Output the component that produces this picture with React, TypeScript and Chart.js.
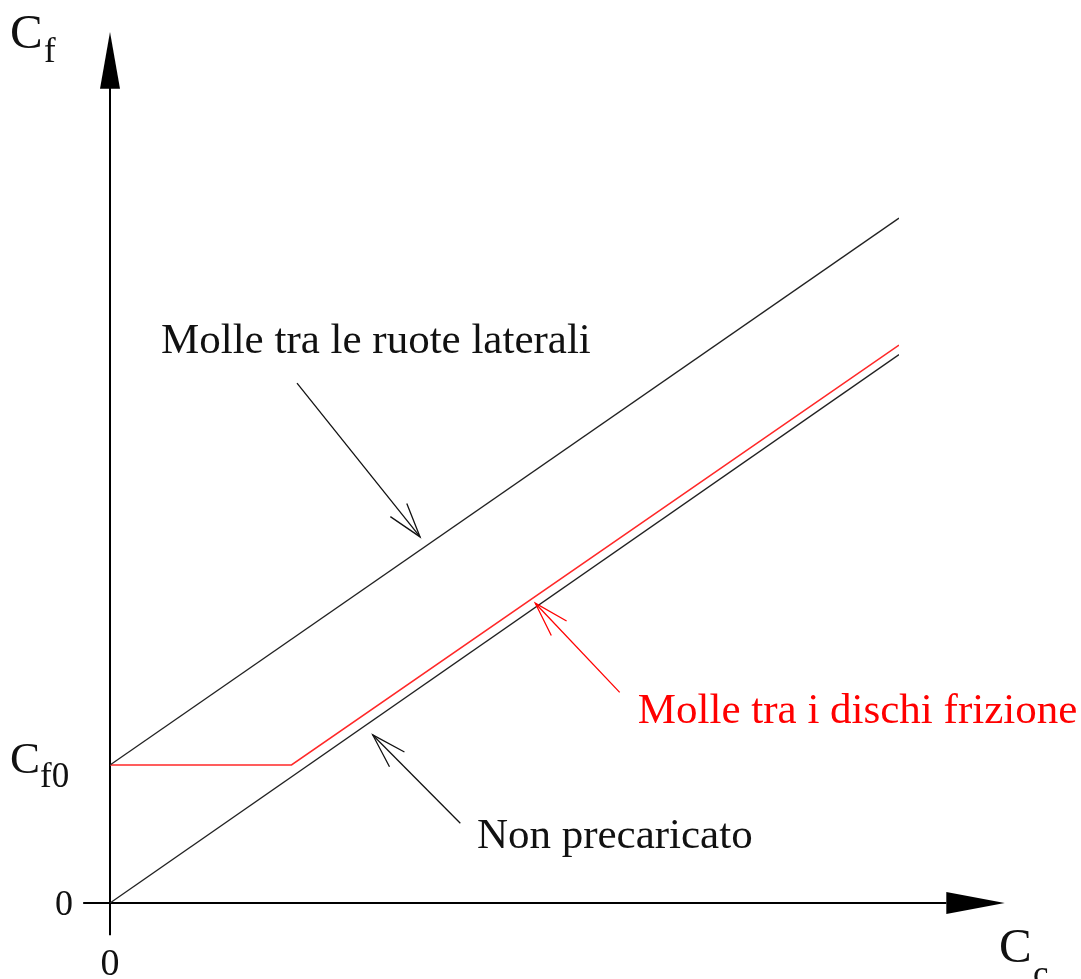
import React, { useEffect, useRef } from "react";
import Chart from "chart.js/auto";

// Data (abstract units: Cc on x, Cf on y)
const xEnds = [0, 10];
const nonPrecaricato = [0, 6.95];
const molleRuote = [1.75, 8.68];
const dischiX = [0, 2.3, 10];
const dischiY = [1.75, 1.75, 7.07];
const cf0 = 1.75;

const labelNonPrecaricato = "Non precaricato";
const labelRuote = "Molle tra le ruote laterali";
const labelDischi = "Molle tra i dischi frizione";

// annotation anchors in data units: [textX, textY, arrowFromX, arrowFromY, arrowToX, arrowToY]
const annRuote = [0.646, 6.97, 2.37, 6.59, 3.93, 4.64];
const annDischi = [6.69, 2.28, 6.46, 2.67, 5.39, 3.8];
const annNon = [4.65, 0.7, 4.44, 1.01, 3.33, 2.13];

const SERIF = '"Liberation Serif", "Times New Roman", serif';
const RED = "rgb(255,40,40)";

export default function App() {
  const ref = useRef<HTMLCanvasElement | null>(null);

  useEffect(() => {
    const canvas = ref.current;
    if (!canvas) return;

    const overlay = {
      id: "overlay",
      beforeDatasetsDraw(chart: any) {
        const ctx = chart.ctx as CanvasRenderingContext2D;
        const xs = chart.scales.x;
        const ys = chart.scales.y;
        const X = (v: number) => xs.getPixelForValue(v);
        const Y = (v: number) => ys.getPixelForValue(v);
        const x0 = X(0);
        const y0 = Y(0);
        ctx.save();
        ctx.strokeStyle = "#000";
        ctx.fillStyle = "#000";
        ctx.lineWidth = 2;
        // y axis
        ctx.beginPath();
        ctx.moveTo(x0, Y(-0.41));
        ctx.lineTo(x0, Y(10.35));
        ctx.stroke();
        ctx.beginPath();
        ctx.moveTo(x0, Y(11.04));
        ctx.lineTo(x0 - 10, Y(10.32));
        ctx.lineTo(x0 + 10, Y(10.32));
        ctx.closePath();
        ctx.fill();
        // x axis
        ctx.beginPath();
        ctx.moveTo(X(-0.34), y0);
        ctx.lineTo(X(10.6), y0);
        ctx.stroke();
        ctx.beginPath();
        ctx.moveTo(X(11.34), y0);
        ctx.lineTo(X(10.6), y0 - 11);
        ctx.lineTo(X(10.6), y0 + 11);
        ctx.closePath();
        ctx.fill();
        ctx.restore();
      },
      afterDatasetsDraw(chart: any) {
        const ctx = chart.ctx as CanvasRenderingContext2D;
        const xs = chart.scales.x;
        const ys = chart.scales.y;
        const X = (v: number) => xs.getPixelForValue(v);
        const Y = (v: number) => ys.getPixelForValue(v);
        ctx.save();
        ctx.fillStyle = "#111";
        ctx.textBaseline = "alphabetic";

        // Cf label
        ctx.textAlign = "left";
        ctx.font = `49px ${SERIF}`;
        ctx.fillText("C", 10, 48);
        ctx.font = `35px ${SERIF}`;
        ctx.fillText("f", 44, 62);

        // Cf0 label
        ctx.font = `45px ${SERIF}`;
        ctx.fillText("C", 10, Y(cf0) + 8);
        ctx.font = `35px ${SERIF}`;
        ctx.fillText("f0", 40, Y(cf0) + 22);

        // 0 on y
        ctx.textAlign = "right";
        ctx.font = `36px ${SERIF}`;
        ctx.fillText("0", X(0) - 37, Y(0) + 12);
        // 0 on x
        ctx.textAlign = "center";
        ctx.font = `38px ${SERIF}`;
        ctx.fillText("0", X(0), Y(0) + 72);

        // Cc label
        ctx.textAlign = "left";
        ctx.font = `49px ${SERIF}`;
        ctx.fillText("C", 999, Y(0) + 59);
        ctx.font = `35px ${SERIF}`;
        ctx.fillText("c", 1033, Y(0) + 82);

        const drawAnn = (a: number[], text: string, color: string) => {
          ctx.fillStyle = color;
          ctx.strokeStyle = color;
          ctx.textAlign = "left";
          ctx.font = `43px ${SERIF}`;
          ctx.fillText(text, X(a[0]), Y(a[1]));
          const fx = X(a[2]);
          const fy = Y(a[3]);
          const tx = X(a[4]);
          const ty = Y(a[5]);
          ctx.lineWidth = 1.3;
          ctx.beginPath();
          ctx.moveTo(fx, fy);
          ctx.lineTo(tx, ty);
          ctx.stroke();
          const ang = Math.atan2(fy - ty, fx - tx);
          const len = 36;
          const spread = (17 * Math.PI) / 180;
          ctx.beginPath();
          ctx.moveTo(tx + len * Math.cos(ang + spread), ty + len * Math.sin(ang + spread));
          ctx.lineTo(tx, ty);
          ctx.lineTo(tx + len * Math.cos(ang - spread), ty + len * Math.sin(ang - spread));
          ctx.stroke();
        };
        drawAnn(annRuote, labelRuote, "#111");
        drawAnn(annDischi, labelDischi, "rgb(255,0,0)");
        drawAnn(annNon, labelNonPrecaricato, "#111");
        ctx.restore();
      },
    };

    const toPts = (xsArr: number[], ysArr: number[]) =>
      xsArr.map((x, i) => ({ x, y: ysArr[i] }));

    const chart = new Chart(canvas, {
      type: "scatter",
      data: {
        datasets: [
          {
            label: labelNonPrecaricato,
            data: toPts(xEnds, nonPrecaricato),
            showLine: true,
            borderColor: "#222",
            borderWidth: 1.3,
            pointRadius: 0,
          },
          {
            label: labelRuote,
            data: toPts(xEnds, molleRuote),
            showLine: true,
            borderColor: "#222",
            borderWidth: 1.3,
            pointRadius: 0,
          },
          {
            label: labelDischi,
            data: toPts(dischiX, dischiY),
            showLine: true,
            borderColor: RED,
            borderWidth: 1.5,
            pointRadius: 0,
          },
        ],
      },
      options: {
        animation: false,
        responsive: false,
        maintainAspectRatio: false,
        layout: { padding: { left: 110, right: 182, top: 114, bottom: 76 } },
        plugins: { legend: { display: false }, tooltip: { enabled: false } },
        scales: {
          x: { type: "linear", min: 0, max: 10, display: false },
          y: { type: "linear", min: 0, max: 10, display: false },
        },
      },
      plugins: [overlay],
    });
    return () => chart.destroy();
  }, []);

  return (
    <div style={{ position: "absolute", left: 0, top: 0, width: 1081, height: 979, background: "#fff" }}>
      <canvas ref={ref} width={1081} height={979} style={{ display: "block" }} />
    </div>
  );
}
